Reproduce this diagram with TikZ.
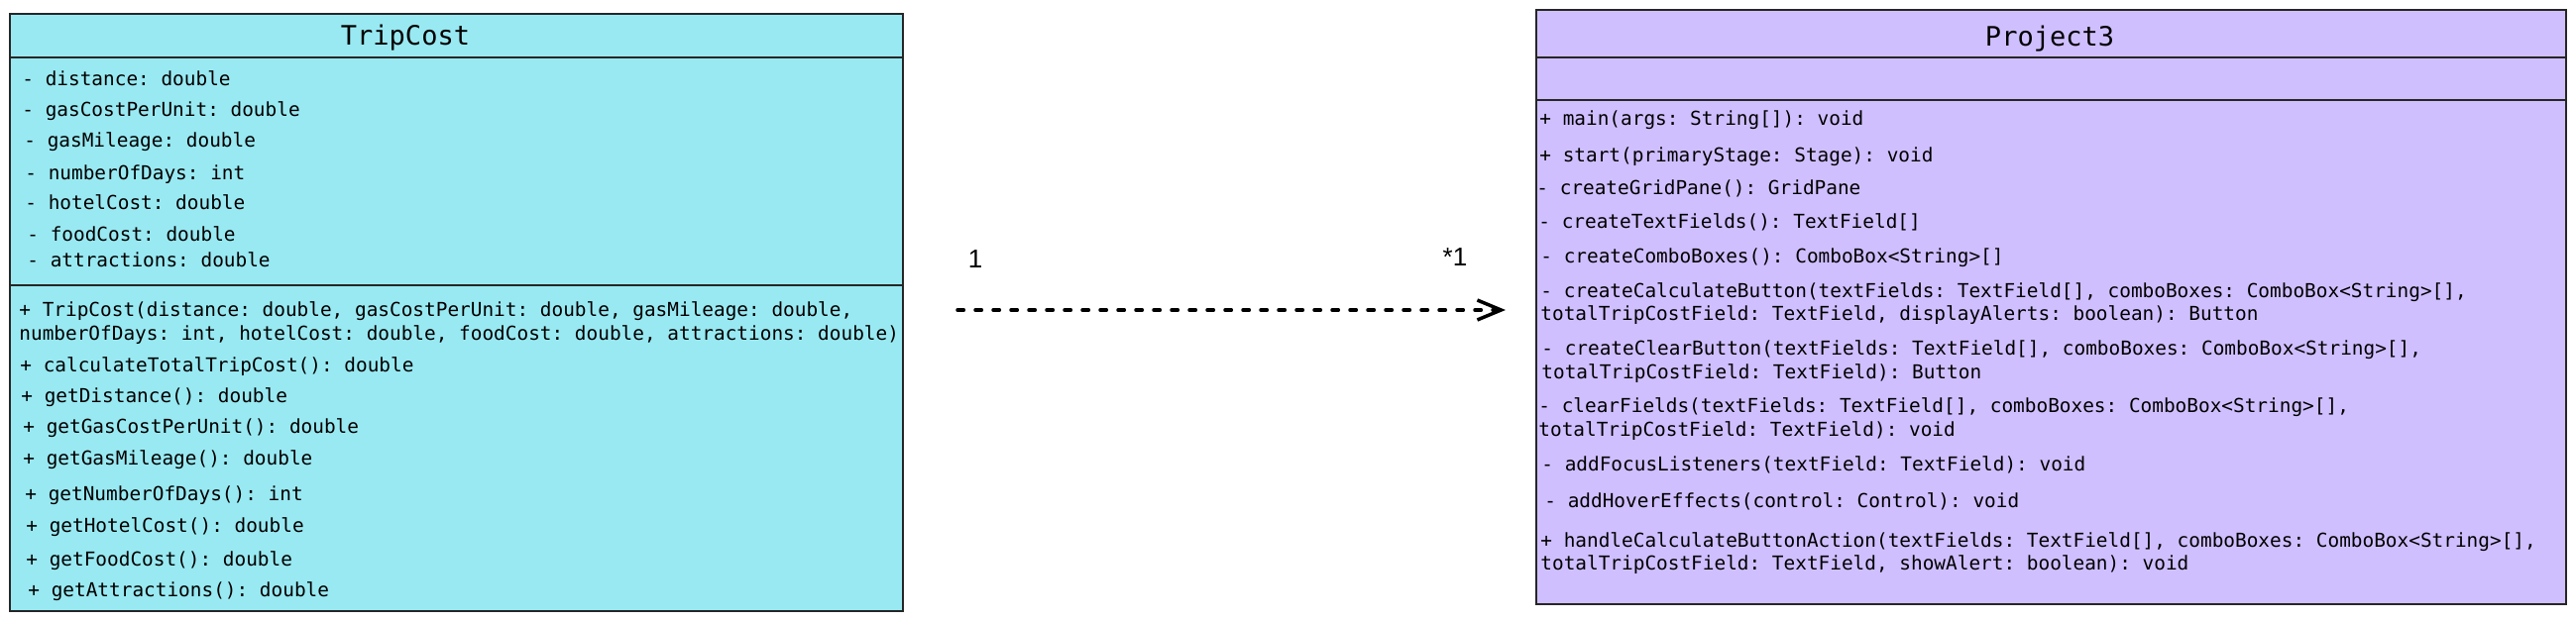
\documentclass[tikz,border=0pt]{standalone}
\usepackage{fontspec}
\setmonofont{DejaVu Sans Mono}
\newfontfamily\multfont{Liberation Sans}
\usepackage{tikz}
\usetikzlibrary{arrows.meta}
\definecolor{TripCyan}{HTML}{99E9F2}
\definecolor{ProjViolet}{HTML}{D0BFFF}
\newcommand{\umlhead}[3]{\node[anchor=base,inner sep=0pt,
  font=\fontsize{13.5}{16}\selectfont\ttfamily] (#1) at #2 {#3};}
\newcommand{\umlrow}[3]{\node[anchor=base west,inner sep=0pt,
  font=\fontsize{9.7}{12}\selectfont\ttfamily] (#1) at #2 {#3};}

\begin{document}
\begin{tikzpicture}[
  x=0.5pt, y=-0.5pt,
  classbox/.style={draw=black!85, line width=0.8pt, inner sep=0pt},
  divider/.style={draw=black!85, line width=0.8pt},
  dep/.style={-{Straight Barb[length=12pt,width=10pt,line width=1.75pt]},
    line width=1.75pt, dash pattern=on 3.2pt off 5.8pt, line cap=round},
  mult/.style={font=\multfont\fontsize{13}{15}\selectfont, inner sep=0pt},
]
\useasboundingbox (0,0) rectangle (2599,627);

%% ── TripCost ─────────────────────────────────────────────────────────────
\node[classbox, fill=TripCyan, minimum width=450.5pt, minimum height=301.5pt]
  (TripCost) at (460.5,315.5) {};
\draw[divider] (TripCost.west |- 0,58) -- (TripCost.east |- 0,58);
\draw[divider] (TripCost.west |- 0,288) -- (TripCost.east |- 0,288);

\umlhead{tcName}{(409,45)}{TripCost}

\umlrow{tcA1}{(22,86)}{- distance: double}
\umlrow{tcA2}{(22,117)}{- gasCostPerUnit: double}
\umlrow{tcA3}{(24,148)}{- gasMileage: double}
\umlrow{tcA4}{(25,181)}{- numberOfDays: int}
\umlrow{tcA5}{(25,211)}{- hotelCost: double}
\umlrow{tcA6}{(27,243)}{- foodCost: double}
\umlrow{tcA7}{(27,269)}{- attractions: double}

\umlrow{tcM1}{(19,319)}{+ TripCost(distance: double, gasCostPerUnit: double, gasMileage: double,}
\umlrow{tcM1b}{(19,343)}{numberOfDays: int, hotelCost: double, foodCost: double, attractions: double)}
\umlrow{tcM2}{(20,375)}{+ calculateTotalTripCost(): double}
\umlrow{tcM3}{(21,406)}{+ getDistance(): double}
\umlrow{tcM4}{(23,437)}{+ getGasCostPerUnit(): double}
\umlrow{tcM5}{(23,469)}{+ getGasMileage(): double}
\umlrow{tcM6}{(25,505)}{+ getNumberOfDays(): int}
\umlrow{tcM7}{(26,537)}{+ getHotelCost(): double}
\umlrow{tcM8}{(26,571)}{+ getFoodCost(): double}
\umlrow{tcM9}{(28,602)}{+ getAttractions(): double}

%% ── Project3 ─────────────────────────────────────────────────────────────
\node[classbox, fill=ProjViolet, minimum width=519.5pt, minimum height=300pt]
  (Project3) at (2069.5,310) {};
\draw[divider] (Project3.west |- 0,58) -- (Project3.east |- 0,58);
\draw[divider] (Project3.west |- 0,101) -- (Project3.east |- 0,101);

\umlhead{pjName}{(2068,46)}{Project3}

\umlrow{pjM1}{(1553,126)}{+ main(args: String[]): void}
\umlrow{pjM2}{(1553,163)}{+ start(primaryStage: Stage): void}
\umlrow{pjM3}{(1550,196)}{- createGridPane(): GridPane}
\umlrow{pjM4}{(1552,230)}{- createTextFields(): TextField[]}
\umlrow{pjM5}{(1554,265)}{- createComboBoxes(): ComboBox<String>[]}
\umlrow{pjM6}{(1554,300)}{- createCalculateButton(textFields: TextField[], comboBoxes: ComboBox<String>[],}
\umlrow{pjM6b}{(1554,323)}{totalTripCostField: TextField, displayAlerts: boolean): Button}
\umlrow{pjM7}{(1555,358)}{- createClearButton(textFields: TextField[], comboBoxes: ComboBox<String>[],}
\umlrow{pjM7b}{(1555,382)}{totalTripCostField: TextField): Button}
\umlrow{pjM8}{(1552,416)}{- clearFields(textFields: TextField[], comboBoxes: ComboBox<String>[],}
\umlrow{pjM8b}{(1552,440)}{totalTripCostField: TextField): void}
\umlrow{pjM9}{(1555,475)}{- addFocusListeners(textField: TextField): void}
\umlrow{pjM10}{(1558,512)}{- addHoverEffects(control: Control): void}
\umlrow{pjM11}{(1554,552)}{+ handleCalculateButtonAction(textFields: TextField[], comboBoxes: ComboBox<String>[],}
\umlrow{pjM11b}{(1554,575)}{totalTripCostField: TextField, showAlert: boolean): void}

%% ── Dependency ───────────────────────────────────────────────────────────
\coordinate (depFrom) at (966,313);
\coordinate (depTo) at (1519,313);
\draw[dep] (depFrom) -- (depTo);

\node[mult] (multFrom) at (984,262) {1};
\node[mult] (multTo) at (1468,260) {*1};

\end{tikzpicture}
\end{document}
